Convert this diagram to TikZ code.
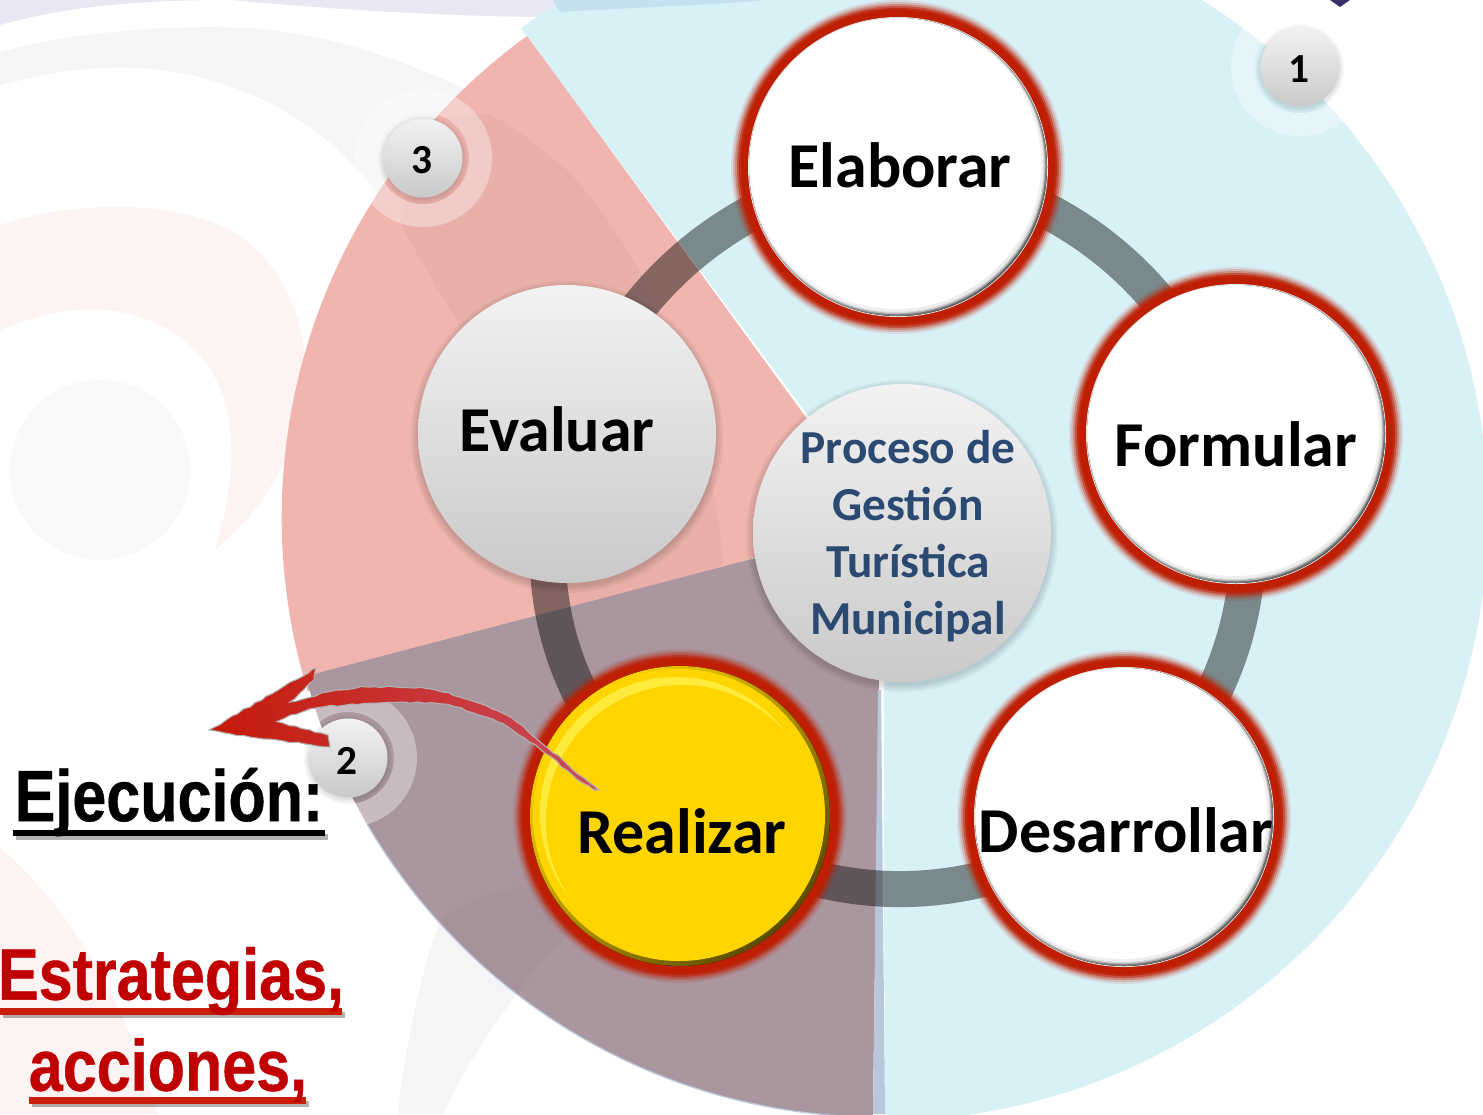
\documentclass[tikz,border=0pt]{standalone}
\usepackage{fontspec}
\setmainfont{Carlito}
\newfontfamily\narrowf[FakeStretch=0.84,BoldFeatures={FakeBold=0.6}]{Liberation Sans}
\usetikzlibrary{backgrounds,calc,decorations.pathmorphing}
\definecolor{skyc}{HTML}{D8F1F7}
\definecolor{redc}{HTML}{EFB5AE}
\definecolor{mauvec}{HTML}{AA969F}
\definecolor{glowc}{HTML}{BE1E02}
\definecolor{navyt}{HTML}{2B4A72}
\definecolor{paleg}{HTML}{F5F5F8}
\definecolor{palep}{HTML}{FDF3F3}
\definecolor{lav}{HTML}{E8E8F5}
\definecolor{yel}{HTML}{FFD500}
\definecolor{yelhi}{HTML}{FFEB3C}
\definecolor{yeldk}{HTML}{5A4C00}
\definecolor{arrowc}{HTML}{C41A0A}
\definecolor{arrowp}{HTML}{CC4A5A}
\definecolor{ulred}{HTML}{C81E0A}
\definecolor{txtred}{HTML}{C00000}
\definecolor{stripc}{HTML}{B8C8DA}
\definecolor{topstrip}{HTML}{C5E0F0}
\definecolor{navyc}{HTML}{3A3070}
\tikzset{
  pxd/.style={circle,inner sep=0pt,outer sep=0pt,minimum size=#1*0.75pt},
  greydisc/.style={pxd=298,top color=black!5,bottom color=black!21},
  whitedisc/.style={pxd=290,fill=white},
  yellowdisc/.style={pxd=292,fill=yel},
  badge/.style={pxd=79,top color=black!5,bottom color=black!21},
  bigt/.style={font=\bfseries\fontsize{48}{50}\selectfont,inner sep=0pt},
  digt/.style={font=\bfseries\fontsize{31}{32}\selectfont,inner sep=0pt},
  centt/.style={font=\bfseries\fontsize{35.5}{42.7}\selectfont,text=navyt,align=center,inner sep=0pt},
  headt/.style={font=\narrowf\bfseries\fontsize{54.5}{56}\selectfont,inner sep=0pt},
  band/.style={line width=27pt,black,opacity=0.43},
  softshadow/.style={black,opacity=0.04},
  overlay/.style={black,opacity=0.025}
}
\newcommand{\glowat}[2]{%
  \foreach \r/\o in {167/0.1,165/0.18,163/0.3,161/0.5,159/0.75}{\fill[glowc,opacity=\o] (#1,#2) circle [radius=\r];}
  \fill[glowc] (#1,#2) circle [radius=157];
}
\newcommand{\rimat}[2]{%
  \fill[white!90!black] (#1,#2) circle [radius=150];
  \fill[top color=white,bottom color=black!62,shading angle=45] (#1,#2) circle [radius=149];
  \foreach \k/\o in {0.5/0.4,1/0.5,1.5/0.6}{\fill[white,opacity=\o] (#1-\k,#2-1.4*\k) circle [radius=148.5-\k];}
}
\newcommand{\softat}[3]{%
  \foreach \r in {1,3,5,7}{\fill[softshadow] (#1,#2+3) circle [radius=#3+\r];}
}
\newcommand{\ringsat}[2]{%
  \fill[white,even odd rule,opacity=0.35] (#1,#2) circle [radius=69] (#1,#2) circle [radius=46];
  \foreach \r in {1,3,5}{\fill[softshadow] (#1,#2+2) circle [radius=39+\r];}
}
\begin{document}
\begin{tikzpicture}[x=0.75pt,y=-0.75pt]
\path[use as bounding box] (0,0) rectangle (1483,1114);
\begin{scope}[on background layer]
  % backdrop swirls
  \fill[white] (0,0) rectangle (1483,1114);
  \fill[lav] (0,0) -- (0,25) .. controls (60,8) and (130,0) .. (230,0) .. controls (340,10) and (430,15) .. (530,17) -- (780,0) -- cycle;
  \fill[paleg] (0,52) .. controls (80,30) and (180,25) .. (250,28) .. controls (340,35) and (420,65) .. (530,120) -- (400,230) .. controls (350,130) and (230,60) .. (100,68) .. controls (60,70) and (30,78) .. (0,85) -- cycle;
  \fill[palep] (0,225) .. controls (60,205) and (160,195) .. (230,230) .. controls (300,270) and (325,370) .. (290,450) .. controls (270,495) and (245,525) .. (215,550) .. controls (240,470) and (240,390) .. (190,345) .. controls (130,295) and (60,305) .. (0,330) -- cycle;
  \fill[paleg!55!white] (100,470) circle [radius=90];
  \fill[palep] (0,848) .. controls (50,890) and (115,970) .. (158,1114) -- (0,1114) -- cycle;
  \fill[paleg] (440,920) .. controls (425,960) and (405,1040) .. (398,1114) -- (443,1114) .. controls (460,1075) and (490,1030) .. (517,993) -- cycle;
  % sectors
  \fill[skyc] (882,515) -- ($(882,515)+(-126.6:606)$) arc (-126.6:89.7:606) -- cycle;
  \fill[redc] (881,520) -- (527,36) arc (234:163:595) -- cycle;
  \fill[overlay] (487,113) .. controls (520,130) and (550,155) .. (570,173) .. controls (650,260) and (710,400) .. (723,565) -- (540,625) -- (457,320) .. controls (440,295) and (415,250) .. (400,223) -- (423,120) -- cycle;
  \fill[mauvec] (881,525) -- ($(878,525)+(165.2:592)$) arc (165.2:90.5:592) -- cycle;
  \draw[stripc,line width=1pt] ($(878,525)+(150:592)$) arc (150:90.5:592);
  \fill[overlay] (440,920) .. controls (455,908) and (490,890) .. (527,887) -- (600,900) -- (563,940) .. controls (545,955) and (530,975) .. (517,993) .. controls (490,975) and (465,950) .. (440,920) -- cycle;
  \fill[white] (880,680) -- (884,680) -- (884,800) -- (882,800) -- cycle;
  \fill[stripc] (878,690) -- (881,690) -- (885,1114) -- (873,1114) -- cycle;
  % small page fragments at the top
  \fill[topstrip] (553,0) -- (765,0) .. controls (700,6) and (620,8) .. (560,12) -- cycle;
  \fill[navyc] (1330,0) -- (1350,0) -- (1340,7) -- cycle;
\end{scope}

% numbered badges
\ringsat{1300}{67}
\ringsat{423}{158}
\ringsat{348}{758}
\node[badge] (b1) at (1300,67) {};
\node[badge] (b3) at (423,158) {};
\node[badge] (b2) at (348,758) {};
\node[digt] (d1) at (1299,69) {1};
\node[digt] (d3) at (422,160) {3};
\node[digt] (d2) at (347,761) {2};

% process discs
\glowat{898}{167}
\rimat{898}{167}
\node[whitedisc] (elab) at (896,164) {};
\glowat{1236}{434}
\rimat{1236}{434}
\node[whitedisc] (form) at (1234,431) {};
\glowat{1124}{817}
\rimat{1124}{817}
\node[whitedisc] (desa) at (1122,814) {};
\glowat{680}{816}
\fill[top color=yel,bottom color=yeldk,shading angle=45] (680,816) circle [radius=150];
\node[yellowdisc] (real) at (679,815) {};
\fill[yelhi] (676,813) circle [radius=136];
\fill[yel] (682,821) circle [radius=136];
\softat{567}{434}{149}
\node[greydisc] (eval) at (567,434) {};
\softat{902}{533}{149}
\node[greydisc] (cent) at (902,533) {};

\begin{scope}[on background layer]
  \draw[band] (elab.center) to[bend left=30] (form.center);
  \draw[band] (form.center) to[bend left=30] (desa.center);
  \draw[band] (desa.center) to[bend left=35] (real.center);
  \draw[band] (real.center) to[bend left=34] (eval.center);
  \draw[band] (eval.center) to[bend left=29] (elab.center);
\end{scope}

\node[bigt] (telab) at (900,165) {Elaborar};
\node[bigt] (tform) at (1236,444) {Formular};
\node[bigt] (tdesa) at (1126,830) {Desarrollar};
\node[bigt] (treal) at (682,831) {Realizar};
\node[bigt] (teval) at (557,429) {Evaluar};
\node[centt] (tcent) at (908,536) {Proceso de\\Gestión\\Turística\\Municipal};

% hand-drawn arrow
\draw[draw=black!30,line width=0.8pt,left color=arrowc,middle color=arrowc,right color=arrowp,decorate,decoration={random steps,segment length=5pt,amplitude=0.7pt}] (209,730) -- (316,668) -- (314,680) -- (290,702)
  .. controls (320,694) and (350,686) .. (375,687) .. controls (400,686) and (420,687) .. (435,690)
  .. controls (460,696) and (490,706) .. (506,715) .. controls (530,730) and (560,760) .. (599,790)
  -- (594,790) .. controls (570,775) and (540,745) .. (498,722) .. controls (475,712) and (450,704) .. (431,703)
  .. controls (400,702) and (350,703) .. (316,708) .. controls (300,712) and (285,717) .. (277,722)
  -- (328,735) -- (330,747) -- (257,738) -- cycle;

% left captions
\fill[black,opacity=0.3] (16,834) rectangle (328,840);
\fill[black] (13,830) rectangle (325,836);
\fill[black,opacity=0.3] (3,1012) rectangle (345,1018);
\fill[ulred] (0,1008) rectangle (342,1015);
\fill[black,opacity=0.3] (32,1101) rectangle (309,1107);
\fill[ulred] (29,1097) rectangle (306,1104);
\node[headt] (ej) at (169,802) {Ejecución:};
\node[headt,text=txtred] (es) at (171,981) {Estrategias,};
\node[headt,text=txtred] (ac) at (168,1070) {acciones,};
\end{tikzpicture}
\end{document}
